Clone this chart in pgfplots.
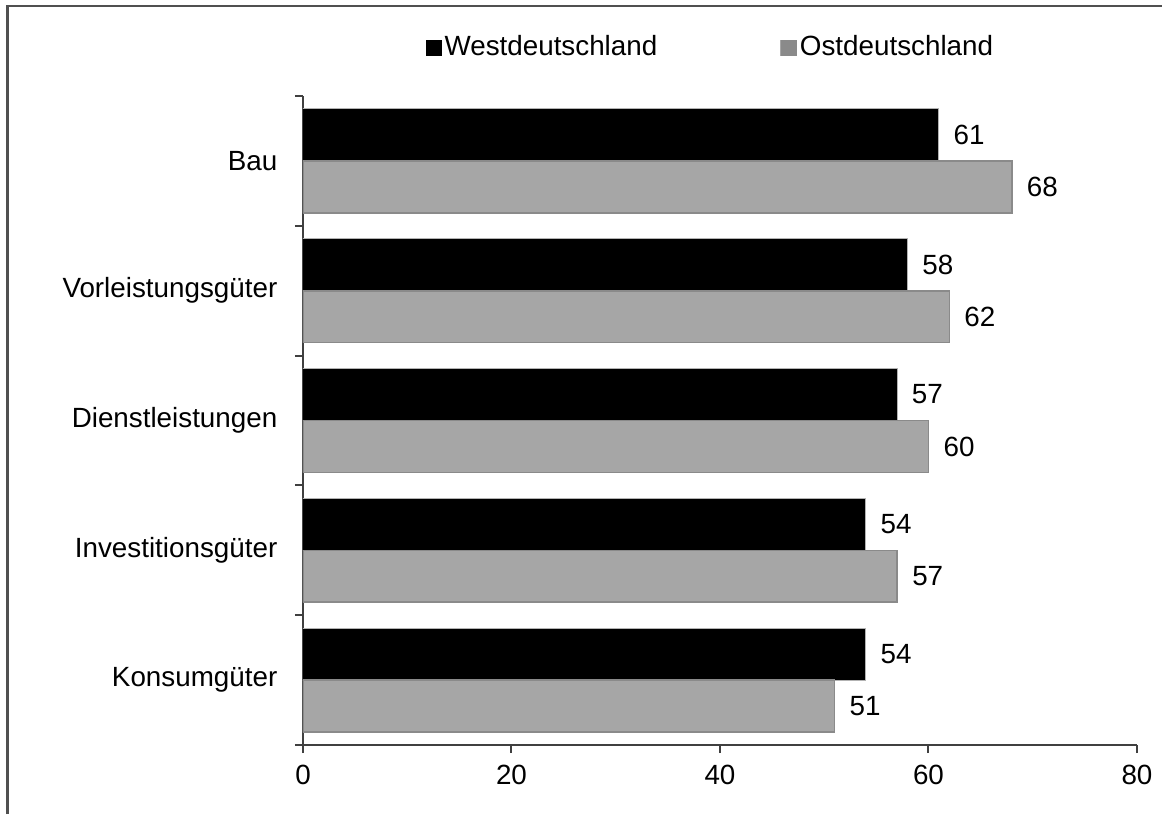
\documentclass[border=0pt]{standalone}
\usepackage{fontspec}
\setmainfont{Liberation Sans}
\usepackage{pgfplots}
\pgfplotsset{compat=1.18}
\definecolor{ostgray}{HTML}{A6A6A6}
\definecolor{ostedge}{HTML}{8A8A8A}
\definecolor{axisgray}{HTML}{404040}
\definecolor{framegray}{HTML}{505050}

\begin{document}
\fontsize{13.9}{16}\selectfont
\begin{tikzpicture}
% page = 1162 x 814 px at 0.5pt per px, origin at the axis' lower left corner
\useasboundingbox (-151.5pt,-34.5pt) rectangle (429.5pt,372.5pt);
\draw[framegray, line width=1.3pt] (-147.75pt,-34.5pt) -- (-147.75pt,369.5pt) -- (429.5pt,369.5pt);
\begin{axis}[
  at={(0pt,0pt)}, anchor=south west,
  scale only axis, width=417pt, height=324.5pt,
  xbar, bar width=0.4,
  xmin=0, xmax=80, ymin=-0.5, ymax=4.5,
  axis x line*=bottom, axis y line*=left,
  axis line style={axisgray, line width=1pt},
  tick align=outside,
  major tick length=0pt, minor tick length=4pt,
  every tick/.append style={axisgray, line width=1pt},
  xtick={0,20,...,80}, minor xtick={0,20,...,80},
  ytick={0,...,4}, minor ytick={-0.5,0.5,...,4.5},
  yticklabels={Konsumgüter,Investitionsgüter,Dienstleistungen,Vorleistungsgüter,Bau},
  xticklabel style={yshift=-5pt},
  yticklabel style={xshift=-8pt},
  /pgf/number format/assume math mode=true,
  nodes near coords,
  nodes near coords style={anchor=west, xshift=2.5pt, text=black},
  legend columns=2,
  legend style={draw=none, fill=none, at={(0.489,1.074)}, anchor=center,
    /tikz/every even column/.append style={column sep=60pt},
    nodes={inner sep=1.5pt}},
]
\addplot[fill=black, draw=gray!60, line width=0.5pt, bar shift=0.2,
  legend image code/.code={\fill[black] (0pt,-3.75pt) rectangle (7.5pt,3.75pt);}]
  coordinates {(54,0) (54,1) (57,2) (58,3) (61,4)};
\addplot[fill=ostgray, draw=ostedge, line width=0.8pt, bar shift=-0.2,
  legend image code/.code={\fill[ostgray] (0pt,-3.75pt) rectangle (7.5pt,3.75pt);
    \draw[ostedge, line width=0.5pt] (0pt,-3.75pt) rectangle (7.5pt,3.75pt);}]
  coordinates {(51,0) (57,1) (60,2) (62,3) (68,4)};
\legend{Westdeutschland, Ostdeutschland}
\end{axis}
\end{tikzpicture}
\end{document}
